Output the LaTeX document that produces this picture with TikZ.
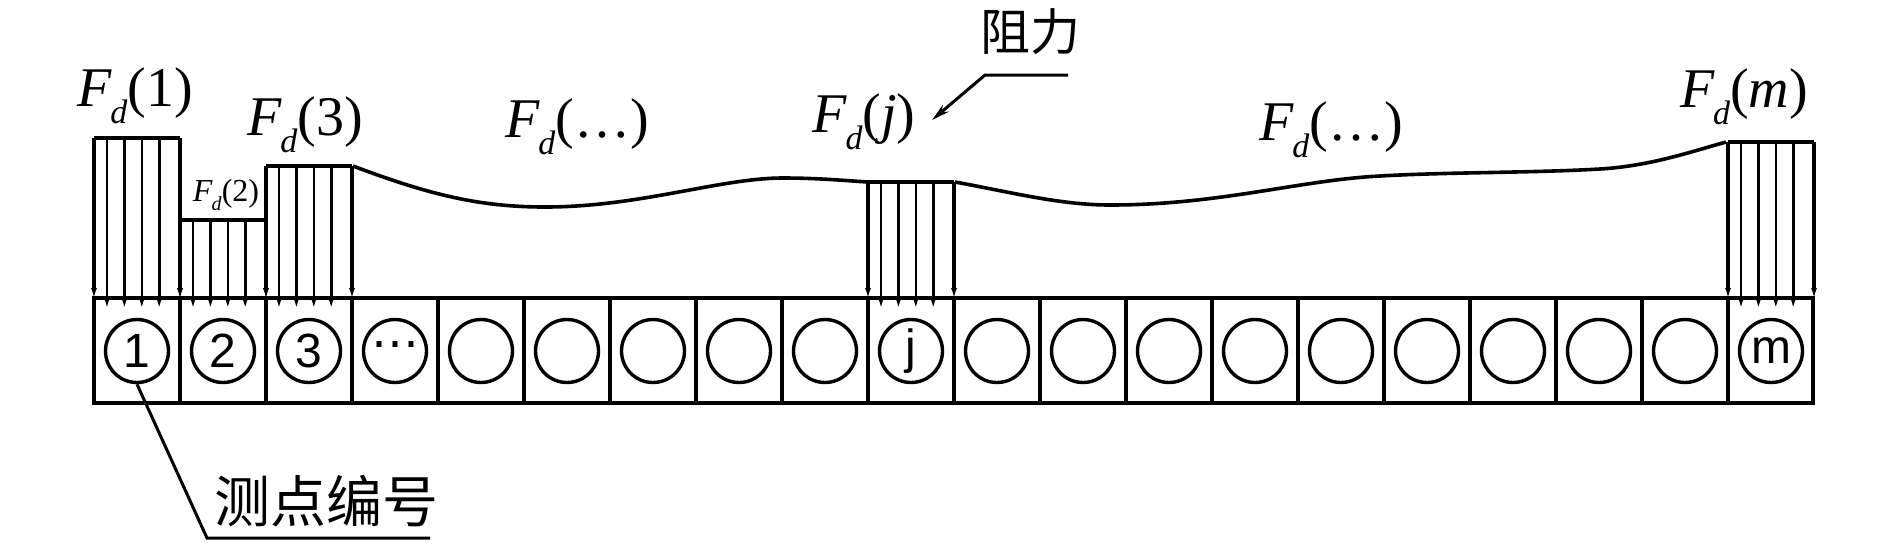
\documentclass[tikz,border=0pt]{standalone}
\usepackage{fontspec}
\setmainfont{Liberation Serif}
\newfontfamily\sansf{Liberation Sans}
\newfontfamily\cjk{Noto Sans CJK SC}
\newfontfamily\dejavu{DejaVu Sans}
\usetikzlibrary{arrows.meta}
\newcommand{\Fd}[2]{\textit{F}\kern-0.03em\raisebox{-0.3em}{\fontsize{#1}{#1}\selectfont\textit{d}}(#2)}
\tikzset{
  boxline/.style={line width=1.9pt},
  edgearrow/.style={line width=1.7pt,-{Latex[length=5.5pt,width=3pt]}},
  loadarrow/.style={line width=1.3pt,-{Latex[length=5.5pt,width=3pt]}},
  cellcircle/.style={circle,draw,line width=1.7pt,minimum size=31.5pt,inner sep=0pt,
    font=\sansf\fontsize{24pt}{24pt}\selectfont},
  biglab/.style={inner sep=0pt,font=\fontsize{28pt}{28pt}\selectfont},
  smalllab/.style={inner sep=0pt,font=\fontsize{16pt}{16pt}\selectfont},
  cjklab/.style={inner sep=0pt},
  leader/.style={line width=1.5pt},
  curveline/.style={line width=1.8pt},
}
\begin{document}
\begin{tikzpicture}[x=0.5pt,y=-0.5pt]
\useasboundingbox (0,0) rectangle (1890,548);

% cell row
\draw[boxline] (94,298) rectangle (1813,403);
\foreach \i in {1,...,19}
  \draw[boxline] ({94+86*\i},298) -- ({94+86*\i},403);

% circles
\foreach \i/\lab in {1/1,2/2,3/3,4/{\dejavu\fontsize{24pt}{24pt}\selectfont ⋯},5/{},6/{},7/{},8/{},9/{},10/j,
  11/{},12/{},13/{},14/{},15/{},16/{},17/{},18/{},19/{},20/m}
  \node[cellcircle] (c\i) at ({94+86*(\i-0.5)},351) {\lab};

% loads
\foreach \i/\t in {1/138,2/220,3/166,10/182,20/142}{
  \pgfmathsetmacro{\L}{94+86*(\i-1)}
  \pgfmathsetmacro{\R}{94+86*\i}
  \draw[boxline] (\L,\t) -- (\R,\t);
  \draw[edgearrow] (\L,\t) -- (\L,299);
  \draw[edgearrow] (\R,\t) -- (\R,299);
  \foreach \k in {0,...,3}
    \draw[loadarrow] ({\L+13+17.4*\k},\t) -- ({\L+13+17.4*\k},309);
}

% resistance curves
\draw[curveline] (353,166) .. controls (430,195) and (480,207) .. (545,207)
  .. controls (640,207) and (720,178) .. (783,178)
  .. controls (820,178) and (850,181) .. (868,182);
\draw[curveline] (955,182) .. controls (1010,192) and (1060,205) .. (1110,205)
  .. controls (1220,205) and (1300,180) .. (1380,176)
  .. controls (1450,172) and (1530,173) .. (1600,169)
  .. controls (1650,166) and (1690,152) .. (1726,142);

% labels
\node[biglab] (f1) at (135,96) {\Fd{17pt}{1}};
\node[smalllab] (f2) at (226,195) {\Fd{10pt}{2}};
\node[biglab] (f3) at (305,125) {\Fd{17pt}{3}};
\node[biglab] (fa) at (577,127) {\Fd{17pt}{…}};
\node[biglab] (fj) at (864,122) {\Fd{17pt}{\textit{j}}};
\node[biglab] (fb) at (1331,130) {\Fd{17pt}{…}};
\node[biglab] (fm) at (1744,97) {\Fd{17pt}{\textit{m}}};

% 阻力 leader
\node[cjklab,font=\cjk\fontsize{25pt}{25pt}\selectfont] (zl) at (1030,32) {阻力};
\coordinate (zla) at (1068,75);
\coordinate (zlb) at (985,75);
\coordinate (zltip) at (932,120);
\draw[leader,-{Stealth[length=9pt,width=4.5pt]}] (zla) -- (zlb) -- (zltip);

% 测点编号 leader
\node[cjklab,font=\cjk\fontsize{28pt}{28pt}\selectfont] (cd) at (326,501) {测点编号};
\coordinate (cdbend) at (207,538);
\coordinate (cdend) at (430,538);
\draw[leader] (c1.south) -- (cdbend) -- (cdend);
\end{tikzpicture}
\end{document}
